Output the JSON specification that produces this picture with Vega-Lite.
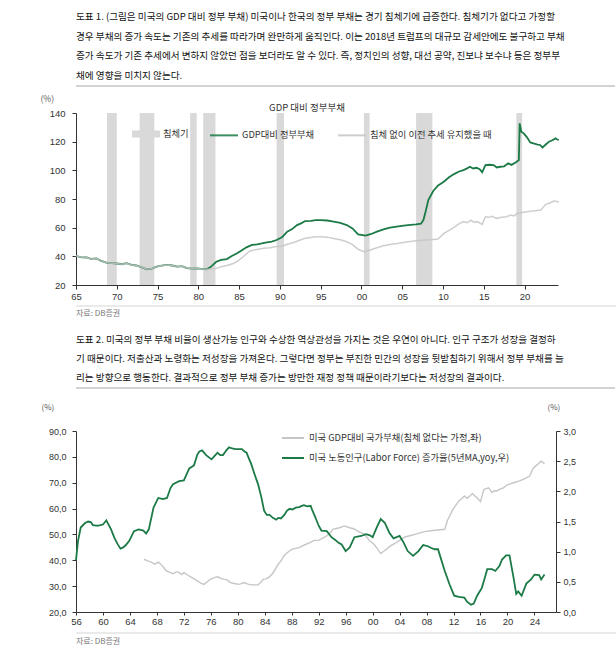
{
  "$schema": "https://vega.github.io/schema/vega-lite/v6.json",
  "padding": {"left": 40, "top": 12, "right": 0, "bottom": 0},
  "spacing": 2,
  "resolve": {"scale": {"color": "independent", "fill": "independent", "stroke": "independent"}},
  "config": {
    "font": "Noto Sans CJK KR",
    "locale": {"number": {"decimal": ",", "thousands": ".", "grouping": [3], "currency": ["", ""]}},
    "view": {"stroke": null},
    "axis": {"domainColor": "#333", "tickColor": "#333", "labelColor": "#333", "labelFont": "Liberation Sans", "grid": false, "titleFontWeight": "normal", "tickSize": 4, "labelOverlap": false},
    "legend": {"labelFont": "Noto Sans CJK KR"},
    "title": {"font": "Noto Sans CJK KR", "fontWeight": "normal", "subtitleFont": "Noto Sans CJK KR"}
  },
  "datasets": {
    "sep": [{"a": 0, "b": 1}],
    "recession": [
      {"start": 1968.8, "end": 1970.0}, {"start": 1972.8, "end": 1974.6}, {"start": 1979.0, "end": 1979.8},
      {"start": 1980.6, "end": 1982.1}, {"start": 1989.6, "end": 1990.5}, {"start": 2000.3, "end": 2001.0},
      {"start": 2006.7, "end": 2008.7}, {"start": 2019.0, "end": 2019.7}
    ],
    "trend1": [
      {"year": 1965.0, "value": 40.4}, {"year": 1965.5, "value": 39.5}, {"year": 1966.3, "value": 39.2}, {"year": 1966.8, "value": 38.2},
      {"year": 1967.5, "value": 38.6}, {"year": 1968.0, "value": 37.0}, {"year": 1968.8, "value": 35.5}, {"year": 1969.4, "value": 35.2},
      {"year": 1970.0, "value": 35.0}, {"year": 1970.6, "value": 34.5}, {"year": 1971.2, "value": 35.2}, {"year": 1971.8, "value": 34.0},
      {"year": 1972.4, "value": 33.6}, {"year": 1973.0, "value": 32.5}, {"year": 1973.7, "value": 31.0}, {"year": 1974.3, "value": 31.5},
      {"year": 1974.9, "value": 32.8}, {"year": 1975.5, "value": 33.5}, {"year": 1976.1, "value": 34.0}, {"year": 1976.8, "value": 33.6},
      {"year": 1977.4, "value": 32.8}, {"year": 1978.0, "value": 33.2}, {"year": 1978.6, "value": 31.8}, {"year": 1979.2, "value": 31.4},
      {"year": 1979.8, "value": 31.6}, {"year": 1980.4, "value": 31.2}, {"year": 1981.0, "value": 31.0}, {"year": 1981.6, "value": 31.2},
      {"year": 1982.2, "value": 31.6}, {"year": 1982.8, "value": 32.8}, {"year": 1983.5, "value": 33.6}, {"year": 1984.3, "value": 35.0},
      {"year": 1984.9, "value": 37.0}, {"year": 1985.5, "value": 39.7}, {"year": 1986.3, "value": 43.7}, {"year": 1987.0, "value": 44.6},
      {"year": 1988.0, "value": 45.6}, {"year": 1988.8, "value": 46.0}, {"year": 1989.6, "value": 46.8}, {"year": 1990.3, "value": 47.0},
      {"year": 1990.9, "value": 48.4}, {"year": 1991.6, "value": 49.5}, {"year": 1992.5, "value": 51.4}, {"year": 1993.1, "value": 52.6},
      {"year": 1993.8, "value": 53.2}, {"year": 1994.4, "value": 53.6}, {"year": 1995.0, "value": 53.7}, {"year": 1995.8, "value": 53.4},
      {"year": 1996.6, "value": 52.5}, {"year": 1997.4, "value": 51.6}, {"year": 1998.2, "value": 50.2}, {"year": 1998.9, "value": 48.2},
      {"year": 1999.6, "value": 44.9}, {"year": 2000.3, "value": 43.2}, {"year": 2001.1, "value": 44.4}, {"year": 2001.9, "value": 46.0},
      {"year": 2002.7, "value": 47.4}, {"year": 2003.5, "value": 48.3}, {"year": 2004.4, "value": 49.0}, {"year": 2005.5, "value": 50.0},
      {"year": 2006.7, "value": 50.9}, {"year": 2007.5, "value": 51.2}, {"year": 2008.4, "value": 51.5}, {"year": 2009.4, "value": 52.1},
      {"year": 2010.1, "value": 56.0}, {"year": 2010.7, "value": 58.0}, {"year": 2011.3, "value": 60.0}, {"year": 2011.9, "value": 62.5},
      {"year": 2012.5, "value": 64.2}, {"year": 2013.0, "value": 63.5}, {"year": 2013.4, "value": 65.3}, {"year": 2013.8, "value": 63.8},
      {"year": 2014.2, "value": 64.2}, {"year": 2014.8, "value": 62.3}, {"year": 2015.2, "value": 67.6}, {"year": 2015.6, "value": 67.2},
      {"year": 2016.0, "value": 68.0}, {"year": 2016.6, "value": 66.5}, {"year": 2017.2, "value": 67.2}, {"year": 2017.8, "value": 67.6},
      {"year": 2018.3, "value": 68.8}, {"year": 2018.7, "value": 68.2}, {"year": 2019.1, "value": 70.0}, {"year": 2019.7, "value": 70.5},
      {"year": 2020.5, "value": 71.2}, {"year": 2021.3, "value": 71.8}, {"year": 2022.0, "value": 72.3}, {"year": 2022.6, "value": 76.3},
      {"year": 2023.1, "value": 77.2}, {"year": 2023.6, "value": 78.6}, {"year": 2024.0, "value": 78.2}, {"year": 2024.2, "value": 77.7}
    ],
    "debt1": [
      {"year": 1965.0, "value": 40.4}, {"year": 1965.5, "value": 39.5}, {"year": 1966.3, "value": 39.2}, {"year": 1966.8, "value": 38.2},
      {"year": 1967.5, "value": 38.6}, {"year": 1968.0, "value": 37.0}, {"year": 1968.8, "value": 35.5}, {"year": 1969.4, "value": 35.2},
      {"year": 1970.0, "value": 35.0}, {"year": 1970.6, "value": 34.5}, {"year": 1971.2, "value": 35.2}, {"year": 1971.8, "value": 34.0},
      {"year": 1972.4, "value": 33.6}, {"year": 1973.0, "value": 32.5}, {"year": 1973.7, "value": 31.0}, {"year": 1974.3, "value": 31.5},
      {"year": 1974.9, "value": 32.8}, {"year": 1975.5, "value": 33.5}, {"year": 1976.1, "value": 34.0}, {"year": 1976.8, "value": 33.6},
      {"year": 1977.4, "value": 32.8}, {"year": 1978.0, "value": 33.2}, {"year": 1978.6, "value": 31.8}, {"year": 1979.2, "value": 31.4},
      {"year": 1979.8, "value": 31.6}, {"year": 1980.4, "value": 31.2}, {"year": 1981.0, "value": 31.0}, {"year": 1981.5, "value": 32.5},
      {"year": 1982.2, "value": 36.2}, {"year": 1982.8, "value": 37.5}, {"year": 1983.5, "value": 38.1}, {"year": 1984.1, "value": 40.2},
      {"year": 1984.7, "value": 42.0}, {"year": 1985.3, "value": 44.0}, {"year": 1985.9, "value": 46.3}, {"year": 1986.5, "value": 47.8},
      {"year": 1987.2, "value": 48.4}, {"year": 1987.8, "value": 49.0}, {"year": 1988.4, "value": 49.8}, {"year": 1989.0, "value": 50.2},
      {"year": 1989.6, "value": 51.4}, {"year": 1990.3, "value": 53.5}, {"year": 1990.9, "value": 57.2}, {"year": 1991.5, "value": 59.0},
      {"year": 1992.1, "value": 61.8}, {"year": 1992.6, "value": 63.0}, {"year": 1993.1, "value": 64.6}, {"year": 1993.8, "value": 64.8},
      {"year": 1994.4, "value": 65.2}, {"year": 1995.0, "value": 65.3}, {"year": 1995.8, "value": 65.0}, {"year": 1996.6, "value": 64.2},
      {"year": 1997.4, "value": 63.4}, {"year": 1998.2, "value": 61.8}, {"year": 1998.9, "value": 59.5}, {"year": 1999.6, "value": 55.3},
      {"year": 2000.5, "value": 54.4}, {"year": 2001.2, "value": 55.6}, {"year": 2001.9, "value": 57.2}, {"year": 2002.7, "value": 58.8},
      {"year": 2003.5, "value": 60.0}, {"year": 2004.3, "value": 60.8}, {"year": 2005.2, "value": 61.4}, {"year": 2006.0, "value": 62.0},
      {"year": 2006.7, "value": 62.3}, {"year": 2007.3, "value": 62.8}, {"year": 2007.6, "value": 65.3}, {"year": 2007.9, "value": 72.0},
      {"year": 2008.2, "value": 79.3}, {"year": 2008.8, "value": 85.6}, {"year": 2009.4, "value": 89.5}, {"year": 2010.1, "value": 92.1},
      {"year": 2010.7, "value": 95.0}, {"year": 2011.3, "value": 97.2}, {"year": 2011.9, "value": 99.0}, {"year": 2012.5, "value": 100.2},
      {"year": 2012.9, "value": 101.2}, {"year": 2013.3, "value": 102.5}, {"year": 2013.7, "value": 101.3}, {"year": 2014.1, "value": 101.8},
      {"year": 2014.5, "value": 100.8}, {"year": 2014.8, "value": 98.6}, {"year": 2015.2, "value": 103.7}, {"year": 2015.7, "value": 103.9},
      {"year": 2016.2, "value": 103.7}, {"year": 2016.6, "value": 102.0}, {"year": 2017.0, "value": 102.5}, {"year": 2017.5, "value": 102.8},
      {"year": 2018.0, "value": 104.9}, {"year": 2018.4, "value": 103.8}, {"year": 2018.9, "value": 105.5}, {"year": 2019.3, "value": 107.2},
      {"year": 2019.4, "value": 132.8}, {"year": 2019.6, "value": 127.0}, {"year": 2019.9, "value": 125.8}, {"year": 2020.3, "value": 123.0},
      {"year": 2020.7, "value": 119.5}, {"year": 2021.2, "value": 118.6}, {"year": 2021.6, "value": 118.0}, {"year": 2021.9, "value": 117.7},
      {"year": 2022.2, "value": 116.0}, {"year": 2022.6, "value": 118.0}, {"year": 2023.0, "value": 120.0}, {"year": 2023.4, "value": 121.0},
      {"year": 2023.8, "value": 122.3}, {"year": 2024.0, "value": 121.5}, {"year": 2024.2, "value": 121.2}
    ],
    "trend2": [
      {"year": 1966.1, "value": 40.4}, {"year": 1966.6, "value": 39.8}, {"year": 1967.0, "value": 39.5}, {"year": 1967.7, "value": 38.5},
      {"year": 1968.2, "value": 39.3}, {"year": 1968.5, "value": 38.7}, {"year": 1969.0, "value": 37.2}, {"year": 1969.4, "value": 35.9},
      {"year": 1970.0, "value": 35.2}, {"year": 1970.4, "value": 34.8}, {"year": 1970.9, "value": 35.6}, {"year": 1971.3, "value": 35.2},
      {"year": 1971.7, "value": 34.5}, {"year": 1972.0, "value": 35.2}, {"year": 1972.5, "value": 34.4}, {"year": 1973.0, "value": 33.6},
      {"year": 1973.5, "value": 32.8}, {"year": 1974.0, "value": 32.0}, {"year": 1974.5, "value": 31.2}, {"year": 1975.0, "value": 30.7},
      {"year": 1975.5, "value": 31.8}, {"year": 1976.0, "value": 32.7}, {"year": 1976.5, "value": 33.3}, {"year": 1977.0, "value": 33.6},
      {"year": 1977.5, "value": 33.0}, {"year": 1977.9, "value": 32.7}, {"year": 1978.4, "value": 32.4}, {"year": 1978.9, "value": 31.4},
      {"year": 1979.5, "value": 31.0}, {"year": 1980.1, "value": 30.7}, {"year": 1980.5, "value": 31.0}, {"year": 1980.9, "value": 31.4},
      {"year": 1981.5, "value": 30.8}, {"year": 1982.0, "value": 30.5}, {"year": 1983.0, "value": 30.5}, {"year": 1983.4, "value": 31.4},
      {"year": 1983.8, "value": 32.7}, {"year": 1984.2, "value": 32.8}, {"year": 1984.7, "value": 33.6}, {"year": 1985.2, "value": 35.0},
      {"year": 1985.7, "value": 37.2}, {"year": 1986.0, "value": 38.5}, {"year": 1986.4, "value": 39.7}, {"year": 1986.8, "value": 41.6},
      {"year": 1987.2, "value": 42.6}, {"year": 1987.6, "value": 43.5}, {"year": 1988.1, "value": 44.3}, {"year": 1989.1, "value": 44.9},
      {"year": 1990.1, "value": 46.2}, {"year": 1990.7, "value": 46.8}, {"year": 1991.3, "value": 47.7}, {"year": 1992.0, "value": 47.7},
      {"year": 1992.6, "value": 48.6}, {"year": 1993.2, "value": 49.4}, {"year": 1993.7, "value": 50.6}, {"year": 1994.1, "value": 52.0},
      {"year": 1995.1, "value": 52.6}, {"year": 1995.8, "value": 53.3}, {"year": 1996.6, "value": 52.6}, {"year": 1997.2, "value": 52.2},
      {"year": 1997.8, "value": 51.3}, {"year": 1998.8, "value": 50.0}, {"year": 1999.5, "value": 47.7}, {"year": 2000.2, "value": 46.2},
      {"year": 2000.7, "value": 44.5}, {"year": 2001.2, "value": 42.6}, {"year": 2001.7, "value": 43.6}, {"year": 2002.2, "value": 44.6},
      {"year": 2002.6, "value": 45.5}, {"year": 2003.3, "value": 46.5}, {"year": 2003.9, "value": 47.5}, {"year": 2004.8, "value": 49.0},
      {"year": 2005.5, "value": 49.5}, {"year": 2006.3, "value": 50.0}, {"year": 2007.0, "value": 50.6}, {"year": 2007.7, "value": 51.1},
      {"year": 2009.2, "value": 51.6}, {"year": 2010.7, "value": 52.0}, {"year": 2011.1, "value": 55.5}, {"year": 2011.5, "value": 57.5},
      {"year": 2011.9, "value": 59.7}, {"year": 2012.4, "value": 61.5}, {"year": 2012.8, "value": 62.9}, {"year": 2013.2, "value": 63.8},
      {"year": 2013.6, "value": 64.9}, {"year": 2014.0, "value": 64.0}, {"year": 2014.4, "value": 64.8}, {"year": 2014.8, "value": 65.8},
      {"year": 2015.2, "value": 64.8}, {"year": 2015.5, "value": 64.2}, {"year": 2016.0, "value": 62.7}, {"year": 2016.5, "value": 67.4},
      {"year": 2017.2, "value": 68.0}, {"year": 2017.7, "value": 66.2}, {"year": 2018.0, "value": 66.9}, {"year": 2018.4, "value": 66.8},
      {"year": 2018.9, "value": 67.5}, {"year": 2019.4, "value": 68.0}, {"year": 2019.9, "value": 69.1}, {"year": 2020.8, "value": 69.9},
      {"year": 2021.8, "value": 70.7}, {"year": 2022.6, "value": 71.6}, {"year": 2023.3, "value": 72.6}, {"year": 2023.8, "value": 75.6},
      {"year": 2024.2, "value": 76.5}, {"year": 2024.5, "value": 77.1}, {"year": 2025.0, "value": 78.4}, {"year": 2025.5, "value": 77.3}
    ],
    "labor": [
      {"year": 1956.0, "value": 0.86}, {"year": 1956.3, "value": 1.18}, {"year": 1956.7, "value": 1.40}, {"year": 1957.3, "value": 1.47},
      {"year": 1957.8, "value": 1.50}, {"year": 1958.2, "value": 1.49}, {"year": 1958.5, "value": 1.44}, {"year": 1959.0, "value": 1.43},
      {"year": 1959.3, "value": 1.43}, {"year": 1960.0, "value": 1.45}, {"year": 1960.5, "value": 1.52}, {"year": 1961.2, "value": 1.37},
      {"year": 1961.7, "value": 1.23}, {"year": 1962.2, "value": 1.12}, {"year": 1962.6, "value": 1.05}, {"year": 1963.0, "value": 1.07},
      {"year": 1963.4, "value": 1.11}, {"year": 1963.9, "value": 1.18}, {"year": 1964.6, "value": 1.34}, {"year": 1965.3, "value": 1.37},
      {"year": 1966.0, "value": 1.35}, {"year": 1966.4, "value": 1.30}, {"year": 1966.8, "value": 1.37}, {"year": 1967.5, "value": 1.73},
      {"year": 1968.2, "value": 1.89}, {"year": 1968.9, "value": 1.87}, {"year": 1969.5, "value": 1.89}, {"year": 1970.0, "value": 2.05},
      {"year": 1970.4, "value": 2.12}, {"year": 1971.3, "value": 2.17}, {"year": 1972.0, "value": 2.18}, {"year": 1972.4, "value": 2.28},
      {"year": 1972.8, "value": 2.38}, {"year": 1973.5, "value": 2.43}, {"year": 1974.0, "value": 2.61}, {"year": 1974.3, "value": 2.66},
      {"year": 1974.7, "value": 2.68}, {"year": 1975.3, "value": 2.60}, {"year": 1976.1, "value": 2.53}, {"year": 1976.5, "value": 2.58},
      {"year": 1977.0, "value": 2.64}, {"year": 1977.4, "value": 2.60}, {"year": 1977.8, "value": 2.60}, {"year": 1978.3, "value": 2.68},
      {"year": 1978.7, "value": 2.73}, {"year": 1979.2, "value": 2.71}, {"year": 1979.6, "value": 2.70}, {"year": 1980.1, "value": 2.70},
      {"year": 1980.6, "value": 2.70}, {"year": 1981.0, "value": 2.66}, {"year": 1981.3, "value": 2.64}, {"year": 1981.7, "value": 2.53},
      {"year": 1982.0, "value": 2.45}, {"year": 1982.5, "value": 2.28}, {"year": 1983.0, "value": 2.12}, {"year": 1983.5, "value": 1.90},
      {"year": 1983.9, "value": 1.68}, {"year": 1984.3, "value": 1.61}, {"year": 1984.7, "value": 1.61}, {"year": 1985.2, "value": 1.56},
      {"year": 1985.7, "value": 1.53}, {"year": 1986.0, "value": 1.56}, {"year": 1986.4, "value": 1.55}, {"year": 1986.9, "value": 1.61},
      {"year": 1987.3, "value": 1.68}, {"year": 1987.7, "value": 1.71}, {"year": 1988.1, "value": 1.70}, {"year": 1988.6, "value": 1.73},
      {"year": 1989.1, "value": 1.74}, {"year": 1989.5, "value": 1.76}, {"year": 1989.8, "value": 1.77}, {"year": 1990.3, "value": 1.75},
      {"year": 1990.8, "value": 1.76}, {"year": 1991.0, "value": 1.70}, {"year": 1991.5, "value": 1.57}, {"year": 1992.0, "value": 1.43},
      {"year": 1992.4, "value": 1.35}, {"year": 1993.2, "value": 1.34}, {"year": 1993.9, "value": 1.24}, {"year": 1994.5, "value": 1.19},
      {"year": 1994.9, "value": 1.15}, {"year": 1995.4, "value": 1.12}, {"year": 1996.0, "value": 1.01}, {"year": 1996.6, "value": 1.07},
      {"year": 1997.3, "value": 1.24}, {"year": 1998.3, "value": 1.26}, {"year": 1999.0, "value": 1.29}, {"year": 1999.6, "value": 1.27},
      {"year": 2000.0, "value": 1.24}, {"year": 2000.6, "value": 1.40}, {"year": 2001.2, "value": 1.54}, {"year": 2001.8, "value": 1.48},
      {"year": 2002.5, "value": 1.31}, {"year": 2003.1, "value": 1.22}, {"year": 2004.0, "value": 1.26}, {"year": 2004.6, "value": 1.15},
      {"year": 2005.2, "value": 1.01}, {"year": 2006.0, "value": 0.93}, {"year": 2006.8, "value": 1.01}, {"year": 2007.5, "value": 1.11},
      {"year": 2008.2, "value": 1.09}, {"year": 2008.7, "value": 1.06}, {"year": 2009.2, "value": 1.04}, {"year": 2009.7, "value": 1.04},
      {"year": 2010.2, "value": 0.86}, {"year": 2010.7, "value": 0.68}, {"year": 2011.4, "value": 0.46}, {"year": 2012.1, "value": 0.27},
      {"year": 2012.8, "value": 0.25}, {"year": 2013.6, "value": 0.24}, {"year": 2014.0, "value": 0.17}, {"year": 2014.6, "value": 0.12},
      {"year": 2015.0, "value": 0.14}, {"year": 2015.5, "value": 0.27}, {"year": 2016.2, "value": 0.40}, {"year": 2016.6, "value": 0.55},
      {"year": 2017.0, "value": 0.71}, {"year": 2017.7, "value": 0.71}, {"year": 2018.2, "value": 0.68}, {"year": 2018.8, "value": 0.76},
      {"year": 2019.2, "value": 0.87}, {"year": 2019.8, "value": 0.94}, {"year": 2020.3, "value": 0.94}, {"year": 2020.9, "value": 0.57},
      {"year": 2021.3, "value": 0.30}, {"year": 2021.6, "value": 0.34}, {"year": 2022.1, "value": 0.27}, {"year": 2022.8, "value": 0.47},
      {"year": 2023.5, "value": 0.54}, {"year": 2024.0, "value": 0.62}, {"year": 2024.7, "value": 0.61}, {"year": 2025.0, "value": 0.54},
      {"year": 2025.5, "value": 0.62}
    ]
  },
  "vconcat": [
    {
      "width": 539, "height": 6,
      "title": {
        "text": [
          "도표 1. (그림은 미국의 GDP 대비 정부 부채) 미국이나 한국의 정부 부채는 경기 침체기에 급증한다. 침체기가 없다고 가정할",
          "경우 부채의 증가 속도는 기존의 추세를 따라가며 완만하게 움직인다. 이는 2018년 트럼프의 대규모 감세안에도 불구하고 부채",
          "증가 속도가 기존 추세에서 변하지 않았던 점을 보더라도 알 수 있다. 즉, 정치인의 성향, 대선 공약, 진보냐 보수냐 등은 정부부",
          "채에 영향을 미치지 않는다."
        ],
        "anchor": "start", "frame": "group", "fontSize": 9.6, "lineHeight": 19.5, "color": "#111", "offset": 5
      },
      "data": {"name": "sep"},
      "mark": {"type": "rule", "color": "#c4c4c4", "strokeWidth": 1.5},
      "encoding": {
        "x": {"field": "a", "type": "quantitative", "scale": {"domain": [0, 1]}, "axis": null},
        "x2": {"field": "b"},
        "y": {"datum": 1, "type": "quantitative", "scale": {"domain": [0, 1]}, "axis": null}
      }
    },
    {
      "width": 482, "height": 172,
      "title": {"text": "GDP 대비 정부부채", "anchor": "middle", "fontSize": 9.5, "color": "#333", "offset": 1, "dx": -10, "dy": 19},
      "layer": [
        {
          "data": {"name": "recession"},
          "mark": {"type": "rect"},
          "encoding": {
            "x": {"field": "start", "type": "quantitative", "scale": {"domain": [1965, 2024.1], "nice": false, "zero": false},
                  "axis": {"values": [1965, 1970, 1975, 1980, 1985, 1990, 1995, 2000, 2005, 2010, 2015, 2020], "labelExpr": "datum.value % 100 < 10 ? '0' + (datum.value % 100) : '' + (datum.value % 100)", "title": null, "labelFontSize": 9.5, "labelPadding": 2, "labelFlush": false}},
            "x2": {"field": "end"},
            "fill": {
              "datum": "침체기",
              "scale": {"domain": ["침체기"], "range": ["#d9d9d9"]},
              "legend": {
                "orient": "none", "legendX": 56, "legendY": 7, "direction": "horizontal", "title": null,
                "symbolType": "M-1,-0.25H1V0.25H-1Z", "symbolSize": 784, "symbolStrokeWidth": 0, "symbolOpacity": 1, "labelFontSize": 9.3, "labelColor": "#333", "labelOffset": 3
              }
            }
          }
        },
        {
          "data": {"name": "debt1"},
          "mark": {"type": "line", "strokeWidth": 1.8},
          "encoding": {
            "x": {"field": "year", "type": "quantitative"},
            "y": {"field": "value", "type": "quantitative", "scale": {"domain": [20, 140], "nice": false, "zero": false},
                  "axis": {"values": [20, 40, 60, 80, 100, 120, 140], "minExtent": 36, "title": "(%)", "titleAngle": 0, "titleY": -15, "titleAlign": "left", "titleBaseline": "middle", "titlePadding": 0, "titleFontSize": 8.5, "titleColor": "#555", "labelFontSize": 9.5, "labelPadding": 7}},
            "stroke": {
              "datum": "GDP대비 정부부채",
              "scale": {"domain": ["GDP대비 정부부채", "침체 없이 이전 추세 유지했을 때"], "range": ["#1b7a46", "#c6c6c6"]},
              "legend": {
                "orient": "none", "legendX": 133, "legendY": 7, "direction": "horizontal", "title": null,
                "symbolType": "stroke", "symbolSize": 784, "symbolStrokeWidth": 2, "labelFontSize": 9.3, "labelColor": "#333", "columnPadding": 19, "labelOffset": 3, "labelLimit": 300
              }
            }
          }
        },
        {
          "data": {"name": "trend1"},
          "mark": {"type": "line", "strokeWidth": 1.5, "opacity": 0.85},
          "encoding": {
            "x": {"field": "year", "type": "quantitative"},
            "y": {"field": "value", "type": "quantitative",
                  "axis": {"values": [20, 40, 60, 80, 100, 120, 140], "minExtent": 36, "title": "(%)", "titleAngle": 0, "titleY": -15, "titleAlign": "left", "titleBaseline": "middle", "titlePadding": 0, "titleFontSize": 8.5, "titleColor": "#555", "labelFontSize": 9.5, "labelPadding": 7}},
            "stroke": {"datum": "침체 없이 이전 추세 유지했을 때"}
          }
        }
      ]
    },
    {
      "width": 540, "height": 3,
      "data": {"name": "sep"},
      "mark": {"type": "rule", "color": "#d6d6d6", "strokeWidth": 1.2},
      "encoding": {
        "x": {"field": "a", "type": "quantitative", "scale": {"domain": [0, 1]}, "axis": null},
        "x2": {"field": "b"},
        "y": {"datum": 0, "type": "quantitative", "scale": {"domain": [0, 1]}, "axis": null}
      }
    },
    {
      "width": 539, "height": 13,
      "title": {
        "text": "자료: DB증권", "fontSize": 8, "color": "#777",
        "subtitle": [
          "도표 2.  미국의 정부 부채 비율이 생산가능 인구와 수상한 역상관성을 가지는 것은 우연이 아니다. 인구 구조가 성장을 결정하",
          "기 때문이다. 저출산과 노령화는 저성장을 가져온다. 그렇다면 정부는 부진한 민간의 성장을 뒷받침하기 위해서 정부 부채를 늘",
          "리는 방향으로 행동한다. 결과적으로 정부 부채 증가는 방만한 재정 정책 때문이라기보다는 저성장의 결과이다."
        ],
        "subtitleFontSize": 9.6, "subtitleColor": "#111", "subtitleLineHeight": 19, "subtitlePadding": 17,
        "anchor": "start", "frame": "group", "offset": 5
      },
      "data": {"name": "sep"},
      "mark": {"type": "rule", "color": "#c4c4c4", "strokeWidth": 1.5},
      "encoding": {
        "x": {"field": "a", "type": "quantitative", "scale": {"domain": [0, 1]}, "axis": null},
        "x2": {"field": "b"},
        "y": {"datum": 1, "type": "quantitative", "scale": {"domain": [0, 1]}, "axis": null}
      }
    },
    {
      "width": 480, "height": 181,
      "resolve": {"scale": {"y": "independent"}},
      "layer": [
        {
          "data": {"name": "trend2"},
          "mark": {"type": "line", "strokeWidth": 1.4},
          "encoding": {
            "x": {"field": "year", "type": "quantitative", "scale": {"domain": [1956, 2027.2], "nice": false, "zero": false},
                  "axis": {"values": [1956, 1960, 1964, 1968, 1972, 1976, 1980, 1984, 1988, 1992, 1996, 2000, 2004, 2008, 2012, 2016, 2020, 2024], "labelExpr": "datum.value % 100 < 10 ? '0' + (datum.value % 100) : '' + (datum.value % 100)", "title": null, "labelFontSize": 9.5, "tickSize": 3, "labelPadding": 1, "labelFlush": false}},
            "y": {"field": "value", "type": "quantitative", "scale": {"domain": [20, 90], "nice": false, "zero": false},
                  "axis": {"orient": "left", "values": [20, 30, 40, 50, 60, 70, 80, 90], "format": ".1f", "title": "(%)", "titleAngle": 0, "titleX": -35, "titleY": -24, "titleAlign": "left", "titleBaseline": "middle", "titleFontSize": 8, "titleColor": "#555", "labelFontSize": 9, "labelPadding": 6}},
            "color": {
              "datum": "미국 GDP대비 국가부채(침체 없다는 가정,좌)",
              "scale": {"domain": ["미국 GDP대비 국가부채(침체 없다는 가정,좌)", "미국 노동인구(Labor Force) 증가율(5년MA,yoy,우)"], "range": ["#c6c6c6", "#1b7a46"]},
              "legend": {
                "orient": "none", "legendX": 205, "legendY": -5, "direction": "vertical", "title": null,
                "symbolType": "stroke", "symbolSize": 484, "symbolStrokeWidth": 2, "labelFontSize": 9.3, "labelColor": "#333", "labelOffset": 4, "rowPadding": 2, "labelLimit": 400
              }
            }
          }
        },
        {
          "data": {"name": "labor"},
          "mark": {"type": "line", "strokeWidth": 1.8},
          "encoding": {
            "x": {"field": "year", "type": "quantitative",
                  "axis": {"values": [1956, 1960, 1964, 1968, 1972, 1976, 1980, 1984, 1988, 1992, 1996, 2000, 2004, 2008, 2012, 2016, 2020, 2024], "labelExpr": "datum.value % 100 < 10 ? '0' + (datum.value % 100) : '' + (datum.value % 100)", "title": null, "labelFontSize": 9.5, "tickSize": 3, "labelPadding": 1, "labelFlush": false}},
            "y": {"field": "value", "type": "quantitative", "scale": {"domain": [0, 3], "nice": false, "zero": false},
                  "axis": {"orient": "right", "values": [0, 0.5, 1, 1.5, 2, 2.5, 3], "format": ".1f", "title": "(%)", "titleAngle": 0, "titleX": -9, "titleY": -24, "titleAlign": "left", "titleBaseline": "middle", "titleFontSize": 8, "titleColor": "#555", "labelFontSize": 9, "labelPadding": 3}},
            "color": {"datum": "미국 노동인구(Labor Force) 증가율(5년MA,yoy,우)"}
          }
        }
      ]
    },
    {
      "width": 540, "height": 5,
      "title": {"text": "자료: DB증권", "orient": "bottom", "anchor": "start", "frame": "group", "fontSize": 8, "color": "#777", "offset": 4},
      "data": {"name": "sep"},
      "mark": {"type": "rule", "color": "#d6d6d6", "strokeWidth": 1.2},
      "encoding": {
        "x": {"field": "a", "type": "quantitative", "scale": {"domain": [0, 1]}, "axis": null},
        "x2": {"field": "b"},
        "y": {"datum": 0, "type": "quantitative", "scale": {"domain": [0, 1]}, "axis": null}
      }
    }
  ]
}
